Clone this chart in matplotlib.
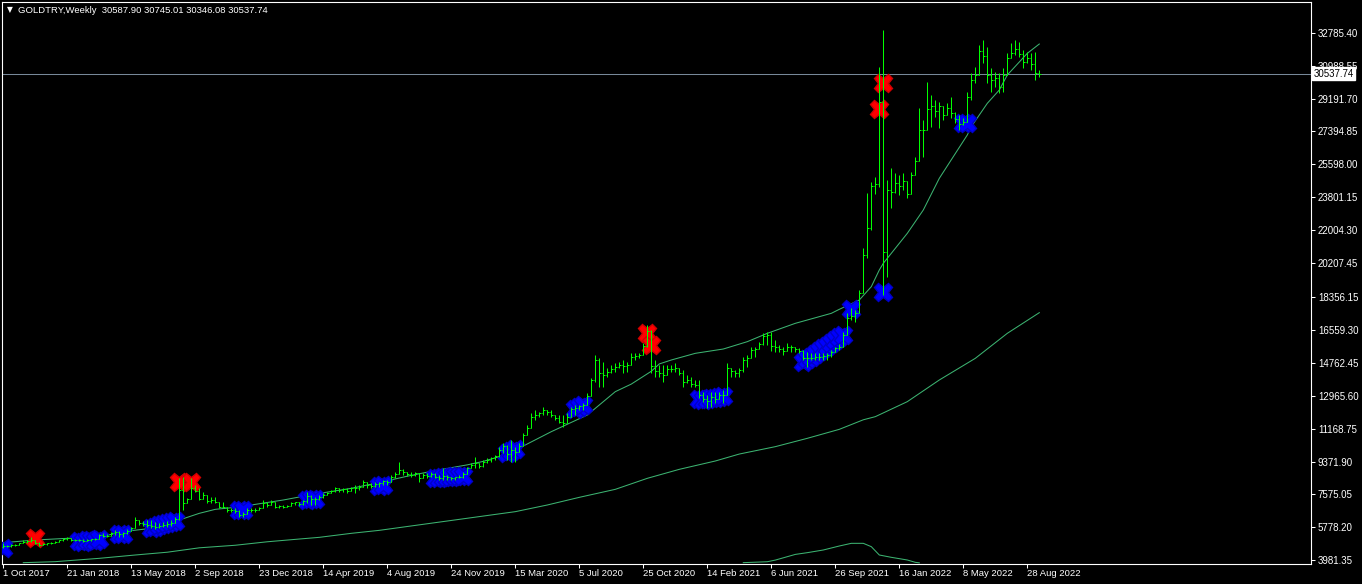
import matplotlib
matplotlib.use("Agg")
import matplotlib.pyplot as plt
from matplotlib.collections import LineCollection

plt.rcParams['font.family'] = ['Liberation Sans', 'DejaVu Sans']

symbol = "GOLDTRY"
timeframe = "Weekly"

first_open = 4720.0
highs = [
    4900, 4813, 4850, 4870, 4940, 5087, 5087, 5230, 5090, 4990,
    4900, 4940, 4990, 5050, 5087, 5180, 5230, 5180, 5160, 5120,
    5120, 5160, 5160, 5200, 5420, 5450, 5420, 5540, 5633, 5600,
    5540, 5670, 5780, 6360, 6180, 6140, 6180, 6180, 6090, 6030,
    6090, 6140, 6180, 6320, 8450, 8545, 7400, 8450, 8100, 7900,
    7720, 7550, 7450, 7450, 7180, 7180, 6870, 6820, 6820, 6720,
    6630, 6820, 6820, 6820, 6900, 7270, 7180, 7270, 7000, 7000,
    7000, 7000, 7180, 7180, 7130, 7270, 7730, 7540, 7450, 7540,
    7630, 7730, 7820, 8000, 7900, 7900, 7900, 8000, 8090, 8090,
    8360, 8180, 8180, 8270, 8270, 8360, 8360, 8630, 8820, 9360,
    8950, 8820, 8820, 8820, 8630, 8720, 8720, 8820, 8720, 8630,
    9000, 8630, 8550, 8550, 8630, 8810, 9090, 9270, 9640, 9270,
    9450, 9550, 9640, 9730, 10180, 10360, 10270, 10550, 10180, 10360,
    10910, 11360, 12000, 12180, 12090, 12330, 12180, 12180, 11910, 11910,
    11910, 12000, 12360, 12460, 12460, 12550, 13090, 13910, 15190, 15000,
    14820, 14460, 14640, 14730, 14820, 14910, 14820, 15280, 15280, 15280,
    15830, 16826, 16553, 14915, 14642, 14642, 14642, 14642, 14733, 14460,
    14369, 14096, 14005, 13823, 13823, 13186, 13004, 13186, 13186, 13186,
    13277, 14733, 14460, 14369, 14460, 15097, 15188, 15643, 15643, 15916,
    16371, 16462, 16462, 16007, 15734, 15643, 15825, 15734, 15643, 15552,
    15461, 15370, 15279, 15279, 15279, 15279, 15300, 15461, 15643, 15800,
    16460, 17463, 17736, 17645, 18737, 21012, 24015, 24652, 24925, 30931,
    32933, 24743, 25380, 25107, 25016, 25107, 24561, 25198, 26017, 28656,
    28019, 30112, 29384, 29111, 29020, 28747, 28929, 29293, 28474, 28292,
    28110, 29566, 30567, 30931, 32114, 32387, 32023, 30840, 30658, 30567,
    30840, 31659, 32205, 32387, 32296, 31841, 31750, 31659, 31750, 30745.01,
]
lows = [
    4650, 4687, 4690, 4760, 4810, 4905, 4940, 5000, 4870, 4760,
    4790, 4830, 4870, 4900, 5000, 5050, 5087, 5050, 5030, 5010,
    4990, 5050, 5050, 5087, 5160, 5230, 5230, 5360, 5360, 5270,
    5270, 5420, 5600, 5720, 5900, 5850, 5780, 5720, 5670, 5720,
    5780, 5780, 5850, 6000, 6200, 6750, 7100, 7300, 7700, 7270,
    7360, 7090, 7090, 7090, 6820, 6820, 6630, 6630, 6540, 6360,
    6360, 6540, 6630, 6630, 6720, 6820, 6900, 7000, 6820, 6820,
    6820, 6870, 7000, 7000, 6950, 7000, 7090, 7000, 7000, 7270,
    7360, 7540, 7630, 7730, 7730, 7730, 7630, 7820, 7630, 7820,
    8000, 7910, 7910, 8000, 8000, 8090, 8090, 8360, 8450, 8720,
    8640, 8600, 8550, 8600, 8270, 8550, 8450, 8545, 8450, 8360,
    8360, 8360, 8360, 8360, 8450, 8450, 8730, 9000, 9000, 9000,
    9090, 9270, 9360, 9450, 9640, 9820, 9460, 9370, 9370, 10000,
    10360, 10820, 11360, 11640, 11820, 11910, 11910, 11820, 11640, 11460,
    11270, 11550, 11820, 11910, 12190, 12190, 12550, 13190, 13730, 13460,
    13460, 14000, 14190, 14280, 14460, 14190, 14280, 14640, 14920, 15010,
    15370, 15640, 14200, 14005, 14005, 13732, 14277, 14277, 14277, 14096,
    13459, 13641, 13459, 13459, 12822, 12640, 12276, 12367, 12549, 12822,
    12549, 13277, 14005, 14005, 14005, 14278, 14551, 15188, 15097, 15643,
    15734, 15734, 15400, 15370, 15370, 15188, 15461, 15370, 15370, 15279,
    14915, 14551, 14915, 14915, 14915, 14915, 14915, 15097, 15370, 15461,
    15640, 16371, 17099, 17008, 17645, 18646, 20500, 22000, 24000, 24379,
    18464, 19465, 23196, 24015, 23924, 24197, 23742, 24470, 25016, 26017,
    26017, 28019, 27655, 28201, 27564, 28019, 28383, 28110, 27837, 27473,
    27746, 28019, 29111, 30021, 30476, 31113, 30021, 29566, 29839, 29475,
    29566, 30476, 31477, 31568, 31477, 30840, 31113, 30749, 30203, 30346.08,
]
closes = [
    4760, 4760, 4790, 4830, 4900, 5000, 5050, 5080, 4920, 4800,
    4850, 4900, 4950, 5000, 5060, 5150, 5180, 5100, 5080, 5060,
    5050, 5100, 5120, 5150, 5380, 5330, 5300, 5480, 5550, 5400,
    5450, 5600, 5720, 6200, 6000, 5950, 5900, 5850, 5800, 5850,
    5900, 5950, 6000, 6250, 7800, 7100, 7300, 7900, 7750, 7350,
    7550, 7200, 7250, 7150, 6900, 6900, 6700, 6720, 6650, 6450,
    6500, 6700, 6750, 6700, 6850, 7100, 7000, 7150, 6900, 6950,
    6900, 6950, 7100, 7150, 7050, 7200, 7500, 7300, 7350, 7450,
    7550, 7650, 7750, 7900, 7800, 7850, 7750, 7950, 7900, 8000,
    8250, 8100, 8050, 8150, 8200, 8300, 8250, 8550, 8700, 8900,
    8800, 8700, 8650, 8750, 8450, 8650, 8600, 8700, 8550, 8450,
    8600, 8500, 8450, 8500, 8550, 8700, 9000, 9200, 9300, 9150,
    9350, 9450, 9550, 9650, 10000, 10200, 9800, 10000, 9900, 10200,
    10800, 11200, 11800, 11900, 12000, 12200, 12050, 11900, 11750, 11550,
    11500, 11800, 12250, 12300, 12400, 12450, 12950, 13800, 14900, 14200,
    14100, 14250, 14450, 14550, 14650, 14600, 14650, 15100, 15150, 15200,
    15700, 16500, 14600, 14300, 14200, 14100, 14400, 14450, 14500, 14200,
    13700, 13800, 13600, 13550, 13000, 12800, 12700, 12900, 12800, 13000,
    13000, 14500, 14300, 14200, 14350, 14900, 15000, 15450, 15500, 15800,
    16200, 16300, 15700, 15600, 15500, 15400, 15650, 15600, 15500, 15400,
    15050, 15000, 15050, 15100, 15100, 15150, 15200, 15350, 15550, 15650,
    16300, 17200, 17300, 17500, 18600, 20650, 22100, 24400, 24500, 29000,
    20800, 24200, 24100, 24600, 24400, 24700, 24000, 25000, 25800, 27500,
    27500, 28600, 28800, 28500, 28800, 28300, 28700, 28400, 28100, 27800,
    27900, 29300, 30200, 30500, 31800, 31500, 30500, 30200, 30300, 29800,
    30500, 31400, 31700, 31900, 31600, 31200, 31400, 31100, 30587.90, 30537.74,
]

# fast moving average (bar index, value)
fast_ma_bars = [0, 8, 16, 24, 32, 37, 44, 49, 53, 58, 62, 70, 78, 87, 95, 101,
                108, 116, 120, 124, 130, 137, 146, 149, 153, 157, 162, 164, 167,
                173, 180, 186, 191, 198, 201, 207, 209, 214, 217, 219, 220, 222,
                226, 230, 234, 241, 242, 246, 249, 251, 256, 259]
fast_ma_vals = [4941, 5087, 5178, 5269, 5597, 5724, 6179, 6543, 6761, 6870, 6998,
                7271, 7598, 7908, 8272, 8570, 8880, 9190, 9380, 9640, 10219,
                11002, 11912, 12458, 13186, 13600, 14300, 14700, 14915, 15279,
                15515, 15916, 16371, 16917, 17099, 17463, 17681, 18191, 18919,
                19829, 20193, 20739, 21831, 23105, 24834, 27200, 27655, 28929,
                29657, 30476, 31659, 32168]

# slow moving average
slow_ma_bars = [5, 13, 24, 33, 41, 49, 58, 66, 74, 79, 87, 94, 111, 128, 136,
                144, 153, 161, 169, 178, 184, 193, 201, 209, 215, 218, 226, 234,
                243, 251, 259]
slow_ma_vals = [3849, 3904, 4086, 4268, 4420, 4660, 4800, 4990, 5140, 5232, 5451,
                5614, 6124, 6634, 6998, 7416, 7853, 8454, 8945, 9400, 9780,
                10183, 10638, 11129, 11650, 11821, 12640, 13823, 15006, 16371,
                17499]

# third indicator line near the bottom
low_line_bars = [185, 191, 193, 198, 201, 205, 209, 212, 215, 217, 219, 222, 226,
                 228, 229]
low_line_vals = [3850, 3900, 3990, 4300, 4395, 4541, 4759, 4905, 4905, 4723, 4268,
                 4141, 3995, 3868, 3840]

# signal markers
sell_bars = [8, 44, 47, 161, 162, 219, 220]
sell_vals = [5180, 8230, 8230, 16371, 15750, 28620, 30020]
buy_bars = [0, 19, 20, 21, 22, 23, 24, 29, 30, 37, 38, 39, 40, 41, 42, 43, 59, 60,
            76, 77, 78, 94, 95, 108, 109, 110, 111, 112, 113, 114, 115, 126, 127,
            128, 143, 144, 145, 174, 175, 176, 177, 178, 179, 180, 200, 201, 202,
            203, 204, 205, 206, 207, 208, 209, 210, 212, 220, 240, 241]
buy_vals = [4650, 5050, 5000, 5060, 5100, 5050, 5120, 5400, 5430, 5750, 5820,
            5880, 5950, 6020, 6080, 6150, 6700, 6750, 7250, 7300, 7350, 8050,
            8100, 8450, 8480, 8500, 8520, 8550, 8560, 8580, 8600, 9850, 9950,
            10050, 12250, 12350, 12450, 12800, 12750, 12800, 12850, 12850, 12900,
            12950, 14800, 14950, 15100, 15250, 15400, 15550, 15700, 15850, 16000,
            16150, 16300, 17700, 18650, 27840, 27840]

price_ticks = [32785.40, 30988.55, 29191.70, 27394.85, 25598.00, 23801.15,
               22004.30, 20207.45, 18356.15, 16559.30, 14762.45, 12965.60,
               11168.75, 9371.90, 7575.05, 5778.20, 3981.35]
date_labels = ["1 Oct 2017", "21 Jan 2018", "13 May 2018", "2 Sep 2018",
               "23 Dec 2018", "14 Apr 2019", "4 Aug 2019", "24 Nov 2019",
               "15 Mar 2020", "5 Jul 2020", "25 Oct 2020", "14 Feb 2021",
               "6 Jun 2021", "26 Sep 2021", "16 Jan 2022", "8 May 2022",
               "28 Aug 2022"]
date_label_step = 16

# ---------------------------------------------------------------------------
W, H = 1362, 584
fig = plt.figure(figsize=(W / 100, H / 100), dpi=100, facecolor="black")
ax = fig.add_axes([2 / W, 20.5 / H, 1309 / W, 561.5 / H])
ax.set_facecolor("black")
ax.set_xlim(-0.325, 326.925)
ax.set_ylim(3803.7, 34461.6)

opens = [first_open] + closes[:-1]
segs = []
for i, (o, h, l, c) in enumerate(zip(opens, highs, lows, closes)):
    hi = max(h, o, c)
    lo = min(l, o, c)
    segs.append([(i, lo), (i, hi)])
    segs.append([(i - 0.3, o), (i, o)])
    segs.append([(i, c), (i + 0.3, c)])

ma_color = "#3CB371"
ax.plot(slow_ma_bars, slow_ma_vals, color=ma_color, lw=0.75, zorder=2)
ax.plot(fast_ma_bars, fast_ma_vals, color=ma_color, lw=0.75, zorder=2)
ax.plot(low_line_bars, low_line_vals, color=ma_color, lw=0.75, zorder=2)

ax.plot(buy_bars, buy_vals, linestyle="none", marker="X", ms=13,
        color="#0000FF", mec="#0000C8", mew=1.0, zorder=3)
ax.plot(sell_bars, sell_vals, linestyle="none", marker="X", ms=13,
        color="#FF0000", mec="#D00000", mew=1.0, zorder=3)

lc = LineCollection(segs, colors="#00FF00", linewidths=0.72, antialiaseds=True,
                    zorder=4)
lc.set_snap(True)
ax.add_collection(lc)

last_close = closes[-1]
ax.axhline(last_close, color="#778899", lw=0.75, zorder=1)

for s in ax.spines.values():
    s.set_color("white")
    s.set_linewidth(0.8)

ax.yaxis.tick_right()
ax.set_yticks(price_ticks)
ax.set_yticklabels([f"{v:.2f}" for v in price_ticks])
ax.tick_params(axis="y", colors="white", labelcolor="white", direction="out",
               length=3, width=0.75, pad=2, labelsize=7.0)

xt = list(range(0, date_label_step * len(date_labels), date_label_step))
ax.set_xticks(xt)
ax.set_xticklabels(date_labels, ha="left")
ax.tick_params(axis="x", colors="white", labelcolor="white", direction="out",
               length=3, width=0.75, pad=1, labelsize=6.8)
for t in ax.get_xticklabels():
    t.set_horizontalalignment("left")

ax.annotate(f"{last_close:.2f}", xy=(1.0, last_close),
            xycoords=("axes fraction", "data"), xytext=(2.0, 0),
            textcoords="offset points", ha="left", va="center",
            color="black", fontsize=7.0, zorder=10,
            bbox=dict(boxstyle="square,pad=0.15", fc="white", ec="white"),
            annotation_clip=False)

fig.text(7 / W, 1 - 10 / H, "\u25BC", color="white", fontsize=5.5,
         va="center", ha="left", family=["DejaVu Sans"])
title = (f"{symbol},{timeframe}  {opens[-1]:.2f} {highs[-1]:.2f} "
         f"{lows[-1]:.2f} {closes[-1]:.2f}")
fig.text(18 / W, 1 - 10.5 / H, title, color="white", fontsize=6.8,
         va="center", ha="left")

fig.savefig("out.png", dpi=100, facecolor="black")
